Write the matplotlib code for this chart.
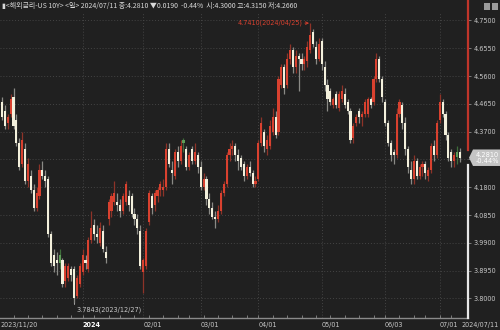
import numpy as np
import pandas as pd
import matplotlib
matplotlib.use('Agg')
import matplotlib.pyplot as plt
from matplotlib import font_manager
from matplotlib.transforms import blended_transform_factory
from matplotlib.patches import Rectangle, Polygon
from matplotlib.lines import Line2D

# trading days (US holidays skipped)
holidays = ['2023-11-23', '2023-12-25', '2024-01-01', '2024-01-15', '2024-02-19',
            '2024-03-29', '2024-05-27', '2024-06-19', '2024-07-04']
dates = pd.bdate_range('2023-11-20', '2024-07-11')
dates = dates[~dates.isin(pd.to_datetime(holidays))]

opens = [4.47, 4.44, 4.40, 4.43, 4.49, 4.41, 4.33, 4.26, 4.31, 4.20,
         4.22, 4.17, 4.11, 4.15, 4.24, 4.22, 4.21, 4.02, 3.95, 3.93,
         3.92, 3.93, 3.86, 3.87, 3.90, 3.90, 3.81, 3.85, 3.89, 3.93,
         3.90, 4.00, 4.05, 4.02, 3.99, 4.03, 3.96, 4.07, 4.10, 4.13,
         4.13, 4.12, 4.10, 4.13, 4.15, 4.15, 4.09, 4.07, 4.03, 3.89,
         3.91, 4.06, 4.15, 4.12, 4.15, 4.17, 4.17, 4.18, 4.31, 4.24,
         4.22, 4.30, 4.27, 4.33, 4.31, 4.25, 4.31, 4.27, 4.29, 4.25,
         4.18, 4.21, 4.14, 4.11, 4.08, 4.07, 4.10, 4.16, 4.19, 4.29,
         4.31, 4.32, 4.29, 4.28, 4.26, 4.22, 4.25, 4.23, 4.19, 4.21,
         4.33, 4.37, 4.31, 4.32, 4.37, 4.42, 4.37, 4.53, 4.59, 4.53,
         4.62, 4.65, 4.59, 4.63, 4.62, 4.60, 4.61, 4.65, 4.71, 4.66,
         4.62, 4.68, 4.59, 4.53, 4.51, 4.46, 4.50, 4.45, 4.48, 4.50,
         4.47, 4.44, 4.35, 4.40, 4.44, 4.42, 4.43, 4.43, 4.48, 4.47,
         4.55, 4.62, 4.55, 4.47, 4.40, 4.33, 4.30, 4.29, 4.43, 4.46,
         4.40, 4.31, 4.24, 4.21, 4.27, 4.22, 4.25, 4.26, 4.22, 4.24,
         4.32, 4.29, 4.41, 4.47, 4.43, 4.36, 4.30, 4.27, 4.285, 4.30]
highs = [4.49, 4.46, 4.43, 4.50, 4.52, 4.43, 4.35, 4.37, 4.33, 4.28,
         4.24, 4.19, 4.18, 4.26, 4.27, 4.24, 4.22, 4.03, 3.97, 3.96,
         3.97, 3.94, 3.92, 3.92, 3.91, 3.91, 3.88, 3.92, 3.97, 3.95,
         4.01, 4.10, 4.07, 4.05, 4.06, 4.05, 3.98, 4.14, 4.16, 4.20,
         4.16, 4.14, 4.16, 4.20, 4.17, 4.16, 4.11, 4.09, 4.05, 3.94,
         4.04, 4.17, 4.16, 4.17, 4.18, 4.20, 4.21, 4.33, 4.33, 4.27,
         4.31, 4.32, 4.34, 4.35, 4.32, 4.30, 4.32, 4.33, 4.30, 4.27,
         4.23, 4.22, 4.16, 4.13, 4.10, 4.12, 4.17, 4.20, 4.30, 4.33,
         4.34, 4.33, 4.31, 4.29, 4.27, 4.26, 4.27, 4.24, 4.22, 4.34,
         4.42, 4.38, 4.36, 4.41, 4.45, 4.44, 4.56, 4.60, 4.60, 4.64,
         4.67, 4.66, 4.65, 4.64, 4.64, 4.63, 4.68, 4.741, 4.72, 4.68,
         4.69, 4.69, 4.61, 4.55, 4.52, 4.49, 4.51, 4.51, 4.53, 4.52,
         4.48, 4.45, 4.40, 4.43, 4.45, 4.44, 4.48, 4.49, 4.49, 4.56,
         4.64, 4.63, 4.56, 4.48, 4.41, 4.34, 4.31, 4.45, 4.48, 4.47,
         4.42, 4.32, 4.27, 4.29, 4.28, 4.26, 4.27, 4.27, 4.25, 4.33,
         4.34, 4.41, 4.50, 4.48, 4.44, 4.37, 4.31, 4.30, 4.32, 4.315]
lows = [4.41, 4.38, 4.38, 4.42, 4.38, 4.32, 4.24, 4.25, 4.19, 4.18,
        4.16, 4.10, 4.10, 4.14, 4.21, 4.18, 4.01, 3.91, 3.89, 3.88,
        3.90, 3.84, 3.84, 3.86, 3.86, 3.7843, 3.80, 3.84, 3.88, 3.90,
        3.89, 3.99, 4.00, 3.99, 3.98, 3.96, 3.92, 4.05, 4.08, 4.12,
        4.10, 4.08, 4.09, 4.12, 4.10, 4.08, 4.05, 4.02, 3.90, 3.82,
        3.90, 4.05, 4.09, 4.10, 4.13, 4.15, 4.15, 4.17, 4.25, 4.19,
        4.21, 4.25, 4.26, 4.30, 4.24, 4.24, 4.26, 4.26, 4.23, 4.17,
        4.17, 4.12, 4.09, 4.07, 4.04, 4.06, 4.09, 4.15, 4.18, 4.27,
        4.29, 4.27, 4.24, 4.24, 4.20, 4.21, 4.22, 4.18, 4.18, 4.20,
        4.32, 4.30, 4.29, 4.31, 4.36, 4.35, 4.36, 4.52, 4.50, 4.52,
        4.60, 4.57, 4.57, 4.51, 4.58, 4.58, 4.59, 4.64, 4.66, 4.60,
        4.61, 4.58, 4.51, 4.44, 4.46, 4.45, 4.45, 4.44, 4.47, 4.45,
        4.43, 4.33, 4.33, 4.39, 4.40, 4.39, 4.42, 4.42, 4.45, 4.46,
        4.54, 4.54, 4.47, 4.39, 4.32, 4.27, 4.26, 4.28, 4.42, 4.38,
        4.29, 4.23, 4.19, 4.19, 4.21, 4.21, 4.22, 4.21, 4.20, 4.23,
        4.27, 4.28, 4.40, 4.42, 4.34, 4.27, 4.25, 4.25, 4.26, 4.266]
closes = [4.42, 4.39, 4.42, 4.48, 4.39, 4.33, 4.25, 4.34, 4.20, 4.26,
          4.17, 4.11, 4.16, 4.24, 4.22, 4.20, 4.02, 3.92, 3.91, 3.92,
          3.95, 3.85, 3.91, 3.91, 3.88, 3.80, 3.87, 3.91, 3.95, 3.92,
          4.00, 4.04, 4.02, 4.01, 4.04, 3.97, 3.94, 4.13, 4.15, 4.16,
          4.12, 4.10, 4.15, 4.19, 4.12, 4.09, 4.07, 4.04, 3.91, 3.93,
          4.03, 4.16, 4.11, 4.16, 4.17, 4.19, 4.18, 4.31, 4.26, 4.23,
          4.30, 4.27, 4.32, 4.34, 4.25, 4.29, 4.27, 4.30, 4.25, 4.18,
          4.21, 4.14, 4.11, 4.08, 4.07, 4.10, 4.16, 4.19, 4.29, 4.31,
          4.32, 4.29, 4.27, 4.25, 4.22, 4.25, 4.23, 4.19, 4.20, 4.33,
          4.40, 4.32, 4.34, 4.39, 4.42, 4.36, 4.55, 4.59, 4.52, 4.62,
          4.65, 4.59, 4.63, 4.62, 4.60, 4.62, 4.66, 4.70, 4.67, 4.62,
          4.67, 4.60, 4.53, 4.48, 4.47, 4.48, 4.46, 4.50, 4.51, 4.46,
          4.44, 4.34, 4.39, 4.42, 4.42, 4.43, 4.47, 4.48, 4.46, 4.55,
          4.62, 4.55, 4.49, 4.40, 4.33, 4.29, 4.29, 4.43, 4.47, 4.40,
          4.31, 4.25, 4.21, 4.27, 4.22, 4.25, 4.26, 4.23, 4.24, 4.32,
          4.29, 4.40, 4.47, 4.43, 4.36, 4.28, 4.27, 4.29, 4.30, 4.281]
green_days = ['2023-12-19', '2024-02-22', '2024-07-10']

y_ticks = [3.800, 3.895, 3.990, 4.085, 4.180, 4.275, 4.370, 4.465, 4.560, 4.655, 4.750]

header = '▮<해외금리-US 10Y> <일> 2024/07/11 종:4.2810 ▼0.0190  -0.44%  시:4.3000 고:4.3150 저:4.2660'
last_text = '4.2810\n-0.44%'

BG = '#202020'
RED = '#d9412f'
CREAM = '#f3f0dc'
GREEN = '#5e9e58'
GRID = '#444444'
TXT = '#c8c8c8'

# narrow face if we have one, the original uses a condensed bitmap font
names = {f.name for f in font_manager.fontManager.ttflist}
NARROW = 'Liberation Sans Narrow' if 'Liberation Sans Narrow' in names else 'DejaVu Sans'
SMALL = 5.6 if NARROW != 'DejaVu Sans' else 4.7

o = np.array(opens)
h = np.array(highs)
l = np.array(lows)
c = np.array(closes)
x = np.arange(len(dates))
is_green = dates.isin(pd.to_datetime(green_days))

fig = plt.figure(figsize=(5, 3.3), dpi=100, facecolor=BG)
ax = fig.add_axes([0, 12 / 330, 468 / 500, 306 / 330])
ax.set_facecolor(BG)
ax.set_xlim(-0.7, 161.8)
ax.set_ylim(3.7333, 4.779)

for t in y_ticks:
    ax.axhline(t, color=GRID, lw=0.7, ls=(0, (1, 2)), zorder=0)

# month starts inside 2024 get a grid line and a label
month_start = [i for i in range(1, len(dates))
               if dates[i].month != dates[i - 1].month and dates[i].year == 2024]
for i in month_start:
    ax.axvline(i, color=GRID, lw=0.7, ls=(0, (1, 2)), zorder=0)

for i in x:
    if is_green[i]:
        body, wick = GREEN, '#3f6e3b'
    elif c[i] >= o[i]:
        body, wick = RED, '#8e3328'
    else:
        body, wick = CREAM, '#8a8a86'
    ax.vlines(i, l[i], h[i], color=wick, lw=0.9, zorder=2)
    lo, hi = min(o[i], c[i]), max(o[i], c[i])
    ax.bar(i, max(hi - lo, 0.004), bottom=lo, width=0.74, color=body, lw=0, zorder=3)

# high / low notes
imax = int(np.argmax(h))
imin = int(np.argmin(l))
ax.annotate(f'{h[imax]:.4f}({dates[imax]:%Y/%m/%d})', xy=(imax - 0.4, h[imax]),
            xytext=(-5, 0), textcoords='offset points', ha='right', va='center',
            fontsize=SMALL, color=RED, family=NARROW,
            arrowprops=dict(arrowstyle='->', color=RED, lw=0.6, shrinkA=0, shrinkB=0))
ax.annotate(f'{l[imin]:.4f}({dates[imin]:%Y/%m/%d})', xy=(imin, l[imin]),
            xytext=(2, -5), textcoords='offset points', ha='left', va='center',
            fontsize=SMALL, color=TXT, family=NARROW,
            arrowprops=dict(arrowstyle='-', color=TXT, lw=0.6, shrinkA=0, shrinkB=0,
                            connectionstyle='angle,angleA=0,angleB=90,rad=0'))

# axes styling
for s in ['top', 'left', 'right']:
    ax.spines[s].set_visible(False)
ax.spines['bottom'].set_color('#8a8a8a')
ax.spines['bottom'].set_linewidth(1.0)
ax.yaxis.tick_right()
ax.set_yticks(y_ticks)
# the label under the price box is hidden in the original
ax.set_yticklabels(['' if abs(t - c[-1]) < 0.02 else f'{t:.4f}' for t in y_ticks],
                   family=NARROW)
ax.tick_params(axis='y', length=2.5, width=0.6, color='#8a8a8a', pad=1.5,
               labelsize=SMALL, labelcolor=TXT)

week_start = [i for i in range(1, len(dates)) if dates[i].weekday() < dates[i - 1].weekday()]
ax.set_xticks(week_start)
ax.set_xticklabels([])
ax.tick_params(axis='x', length=2, width=0.6, color='#8a8a8a', direction='in')

tr = blended_transform_factory(ax.transData, ax.transAxes)
ax.text(-0.7, -0.012, dates[0].strftime('%Y/%m/%d'), transform=tr, ha='left', va='top',
        fontsize=SMALL, color=TXT, family=NARROW)
for i in month_start:
    d = dates[i]
    if d.month == 1:
        ax.text(i, -0.012, str(d.year), transform=tr, ha='left', va='top',
                fontsize=SMALL, color='white', fontweight='bold', family=NARROW)
    else:
        ax.text(i, -0.012, d.strftime('%m/%d'), transform=tr, ha='left', va='top',
                fontsize=SMALL, color=TXT, family=NARROW)
fig.text(0.998, 12 / 330 - 0.012, dates[-1].strftime('%Y/%m/%d'), ha='right', va='top',
         fontsize=SMALL, color=TXT, family=NARROW)

# current value marker at the right edge
yl = ax.transData.transform((0, c[-1]))[1] / fig.bbox.height
fig.add_artist(Line2D([0.936, 0.936], [yl + 0.022, 1.0], color='#c0352a', lw=1.6))
fig.add_artist(Line2D([0.936, 0.936], [12 / 330, yl - 0.022], color='#e8e8e8', lw=1.6))
fig.add_artist(Polygon([[0.938, yl], [0.946, yl + 0.025], [1.0, yl + 0.025],
                        [1.0, yl - 0.025], [0.946, yl - 0.025]], closed=True,
                       facecolor='#c4c4c4', edgecolor='none'))
fig.text(0.974, yl, last_text, ha='center', va='center', fontsize=4.8, color='white',
         linespacing=0.95, family=NARROW)

# header
fig.text(0.004, 1 - 6 / 330, header, ha='left', va='center', fontsize=5.0, color='#d8d8d8',
         family=['Noto Sans CJK KR', 'DejaVu Sans'])
fig.add_artist(Rectangle((0.968, 1 - 10 / 330), 0.012, 7 / 330, facecolor='#9a9a9a', edgecolor='none'))
fig.add_artist(Rectangle((0.983, 1 - 10 / 330), 0.012, 7 / 330, facecolor='#9a9a9a', edgecolor='none'))

fig.savefig('out.png', dpi=100, facecolor=BG)
